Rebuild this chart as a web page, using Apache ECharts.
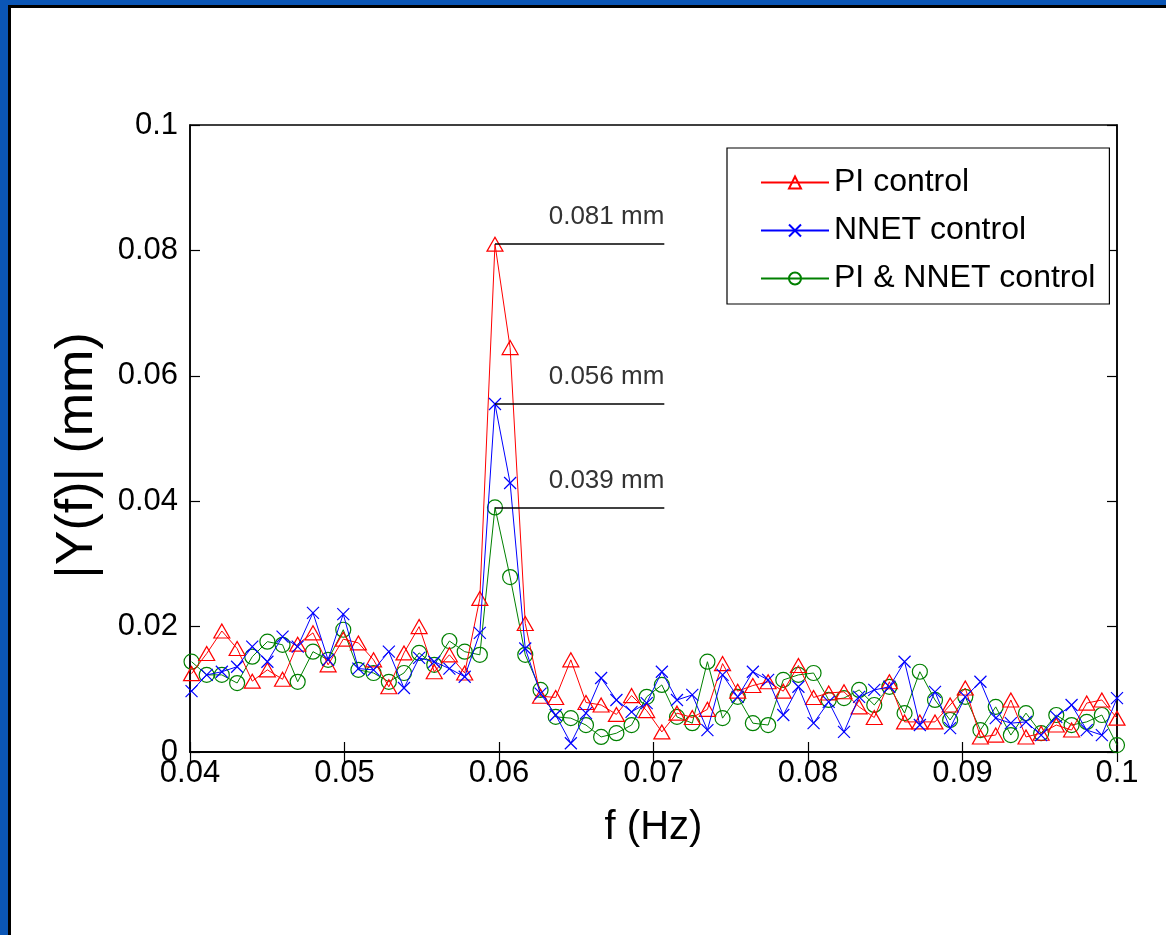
<!DOCTYPE html>
<html>
<head>
<meta charset="utf-8">
<script src="https://cdn.jsdelivr.net/npm/echarts@6/dist/echarts.min.js"></script>
<style>
  html, body { margin: 0; padding: 0; background: #fff; }
  #main { position: absolute; left: 0; top: 0; width: 1166px; height: 935px; }
  .frame { position: absolute; pointer-events: none; }
</style>
</head>
<body>
<div id="main"></div>
<!-- slide frame: blue edge with a thin black line inside, top and left only -->
<div class="frame" style="left:0;top:0;width:1166px;height:5px;background:#0b56b6"></div>
<div class="frame" style="left:0;top:0;width:8px;height:935px;background:#0b56b6"></div>
<div class="frame" style="left:8px;top:5px;width:1158px;height:3px;background:#000"></div>
<div class="frame" style="left:8px;top:5px;width:3px;height:930px;background:#000"></div>
<script>
// frequency bins (Hz)
const freq = [
  0.04010, 0.04108, 0.04206, 0.04305, 0.04403, 0.04501, 0.04599, 0.04697, 0.04796, 0.04894,
  0.04992, 0.05090, 0.05188, 0.05287, 0.05385, 0.05483, 0.05581, 0.05679, 0.05778, 0.05876,
  0.05974, 0.06072, 0.06170, 0.06269, 0.06367, 0.06465, 0.06563, 0.06661, 0.06760, 0.06858,
  0.06956, 0.07054, 0.07152, 0.07251, 0.07349, 0.07447, 0.07545, 0.07643, 0.07742, 0.07840,
  0.07938, 0.08036, 0.08134, 0.08233, 0.08331, 0.08429, 0.08527, 0.08625, 0.08724, 0.08822,
  0.08920, 0.09018, 0.09116, 0.09215, 0.09313, 0.09411, 0.09509, 0.09607, 0.09706, 0.09804,
  0.09902, 0.10000
];

// |Y(f)| in mm
const piControl = [
  0.0125, 0.0157, 0.0193, 0.0165, 0.0113, 0.0131, 0.0116, 0.0172, 0.0190, 0.0139,
  0.0180, 0.0174, 0.0147, 0.0104, 0.0158, 0.0200, 0.0128, 0.0155, 0.0126, 0.0245,
  0.0810, 0.0645, 0.0205, 0.0089, 0.0087, 0.0147, 0.0079, 0.0075, 0.0060, 0.0090,
  0.0066, 0.0032, 0.0062, 0.0055, 0.0068, 0.0141, 0.0097, 0.0106, 0.0112, 0.0097,
  0.0138, 0.0087, 0.0094, 0.0096, 0.0072, 0.0055, 0.0112, 0.0048, 0.0048, 0.0048,
  0.0075, 0.0102, 0.0024, 0.0027, 0.0083, 0.0024, 0.0030, 0.0043, 0.0035, 0.0078,
  0.0083, 0.0054
];

const nnetControl = [
  0.0097, 0.0123, 0.0128, 0.0136, 0.0168, 0.0144, 0.0184, 0.0168, 0.0222, 0.0147,
  0.0220, 0.0133, 0.0131, 0.0160, 0.0102, 0.0150, 0.0144, 0.0133, 0.0120, 0.0190,
  0.0555, 0.0429, 0.0165, 0.0093, 0.0059, 0.0014, 0.0062, 0.0118, 0.0083, 0.0064,
  0.0078, 0.0128, 0.0083, 0.0091, 0.0035, 0.0123, 0.0088, 0.0128, 0.0115, 0.0059,
  0.0104, 0.0046, 0.0080, 0.0032, 0.0088, 0.0099, 0.0104, 0.0144, 0.0043, 0.0096,
  0.0038, 0.0088, 0.0112, 0.0054, 0.0046, 0.0048, 0.0027, 0.0056, 0.0075, 0.0035,
  0.0027, 0.0086
];

const bothControl = [
  0.0144, 0.0123, 0.0123, 0.0110, 0.0152, 0.0176, 0.0171, 0.0112, 0.0160, 0.0147,
  0.0195, 0.0131, 0.0126, 0.0112, 0.0126, 0.0158, 0.0139, 0.0177, 0.0160, 0.0155,
  0.0390, 0.0279, 0.0155, 0.0099, 0.0056, 0.0054, 0.0043, 0.0024, 0.0030, 0.0043,
  0.0088, 0.0107, 0.0056, 0.0046, 0.0144, 0.0054, 0.0088, 0.0046, 0.0043, 0.0115,
  0.0123, 0.0126, 0.0083, 0.0086, 0.0099, 0.0075, 0.0104, 0.0062, 0.0128, 0.0083,
  0.0051, 0.0088, 0.0035, 0.0072, 0.0027, 0.0062, 0.0030, 0.0059, 0.0043, 0.0048,
  0.0059, 0.0011
];

const seriesNames = ['PI control', 'NNET control', 'PI & NNET control'];

// peak annotations
const peakValues = [0.081, 0.0555, 0.039];
const peakLabels = ['0.081 mm', '0.056 mm', '0.039 mm'];
const peakFreq = freq[20];
const peakLineEnd = 0.0707;

const FONT = 'Liberation Sans, Arial, sans-serif';

var myChart = echarts.init(document.getElementById('main'));

function pairs(values) {
  return freq.map((f, i) => [f, values[i]]);
}

const crossPath = 'path://M0,0 L10,10 M10,0 L0,10';

const axisCommon = {
  type: 'value',
  axisLine: { show: true, lineStyle: { color: '#000', width: 1.5 } },
  axisTick: { show: true, inside: true, length: 10, lineStyle: { color: '#000', width: 1.2 } },
  splitLine: { show: false }
};

var option = {
  animation: false,
  backgroundColor: '#fff',
  grid: {
    left: 190, right: 49, top: 125, bottom: 183,
    show: true, borderColor: '#000', borderWidth: 1.5, backgroundColor: 'transparent'
  },
  legend: {
    data: seriesNames,
    orient: 'vertical',
    align: 'left',
    left: 727,
    top: 148,
    backgroundColor: '#fff',
    borderColor: '#000',
    borderWidth: 1.2,
    borderRadius: 0,
    padding: [17, 14, 8, 33],
    itemWidth: 68,
    itemHeight: 15,
    itemGap: 13,
    textStyle: { fontFamily: FONT, fontSize: 32, color: '#000', lineHeight: 35 }
  },
  xAxis: [
    Object.assign({}, axisCommon, {
      min: 0.04, max: 0.1, interval: 0.01,
      position: 'bottom',
      name: 'f (Hz)',
      nameLocation: 'middle',
      nameGap: 56,
      nameTextStyle: { fontFamily: FONT, fontSize: 40, color: '#000' },
      axisLabel: { fontFamily: FONT, fontSize: 31, color: '#000', margin: 6 }
    }),
    Object.assign({}, axisCommon, {
      min: 0.04, max: 0.1, interval: 0.01,
      position: 'top',
      axisLabel: { show: false }
    })
  ],
  yAxis: [
    Object.assign({}, axisCommon, {
      min: 0, max: 0.1, interval: 0.02,
      position: 'left',
      name: '|Y(f)| (mm)',
      nameLocation: 'middle',
      nameGap: 86,
      nameTextStyle: { fontFamily: FONT, fontSize: 52, color: '#000', padding: [0, 34, 0, 0] },
      axisLabel: { fontFamily: FONT, fontSize: 31, color: '#000', margin: 12 }
    }),
    Object.assign({}, axisCommon, {
      min: 0, max: 0.1, interval: 0.02,
      position: 'right',
      axisLabel: { show: false }
    })
  ],
  series: [
    {
      name: seriesNames[0],
      type: 'line',
      data: pairs(piControl),
      clip: false,
      symbol: 'triangle',
      symbolSize: [16, 14],
      showAllSymbol: true,
      lineStyle: { color: '#ff0000', width: 1 },
      itemStyle: { color: 'rgba(255,255,255,0)', borderColor: '#ff0000', borderWidth: 1.2 },
      z: 3
    },
    {
      name: seriesNames[1],
      type: 'line',
      data: pairs(nnetControl),
      clip: false,
      symbol: crossPath,
      symbolSize: 12,
      showAllSymbol: true,
      lineStyle: { color: '#0000ff', width: 1 },
      itemStyle: { color: 'rgba(0,0,255,0)', borderColor: '#0000ff', borderWidth: 1.2 },
      z: 4
    },
    {
      name: seriesNames[2],
      type: 'line',
      data: pairs(bothControl),
      clip: false,
      symbol: 'circle',
      symbolSize: 15,
      showAllSymbol: true,
      lineStyle: { color: '#008000', width: 1 },
      itemStyle: { color: 'rgba(255,255,255,0)', borderColor: '#008000', borderWidth: 1.2 },
      z: 2,
      markLine: {
        silent: true,
        symbol: ['none', 'none'],
        lineStyle: { color: '#000', width: 1.5, type: 'solid' },
        label: {
          show: true,
          position: 'insideEndTop',
          formatter: '{b}',
          distance: [0, 14],
          fontFamily: FONT,
          fontSize: 26,
          color: '#333'
        },
        emphasis: { disabled: true },
        data: peakValues.map((v, i) => [
          { name: peakLabels[i], coord: [peakFreq, v] },
          { coord: [peakLineEnd, v] }
        ])
      }
    }
  ]
};

myChart.setOption(option);
</script>
</body>
</html>
